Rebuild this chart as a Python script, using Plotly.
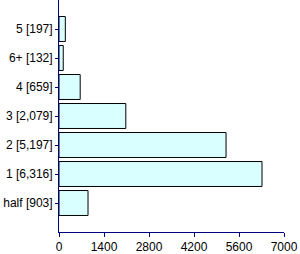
import plotly.graph_objects as go

categories = ["half [903]", "1 [6,316]", "2 [5,197]", "3 [2,079]", "4 [659]", "6+ [132]", "5 [197]"]
values = [903, 6316, 5197, 2079, 659, 132, 197]
x_ticks = [0, 1400, 2800, 4200, 5600, 7000]

fig = go.Figure(go.Bar(
    x=values, y=categories, orientation="h",
    marker=dict(color="#D9FFFF", line=dict(color="black", width=1)),
    width=0.86,
))
fig.update_layout(
    width=300, height=254,
    margin=dict(l=59, r=16, t=0, b=22),
    paper_bgcolor="white", plot_bgcolor="white",
    font=dict(family="Liberation Sans, Arial", size=12, color="#000000"),
    showlegend=False,
)
fig.update_xaxes(
    range=[0, 7000], tickvals=x_ticks, ticktext=[str(v) for v in x_ticks],
    showgrid=False, zeroline=False, showline=True, linecolor="#000080", linewidth=1,
    ticks="outside", ticklen=4, tickcolor="#000080",
)
fig.update_yaxes(
    type="category", categoryorder="array", categoryarray=categories,
    range=[-1, 7], showgrid=False, zeroline=False, showline=True,
    linecolor="#000080", linewidth=1, ticks="outside", ticklen=3, tickcolor="#000080",
)
fig.write_html("out.html")
